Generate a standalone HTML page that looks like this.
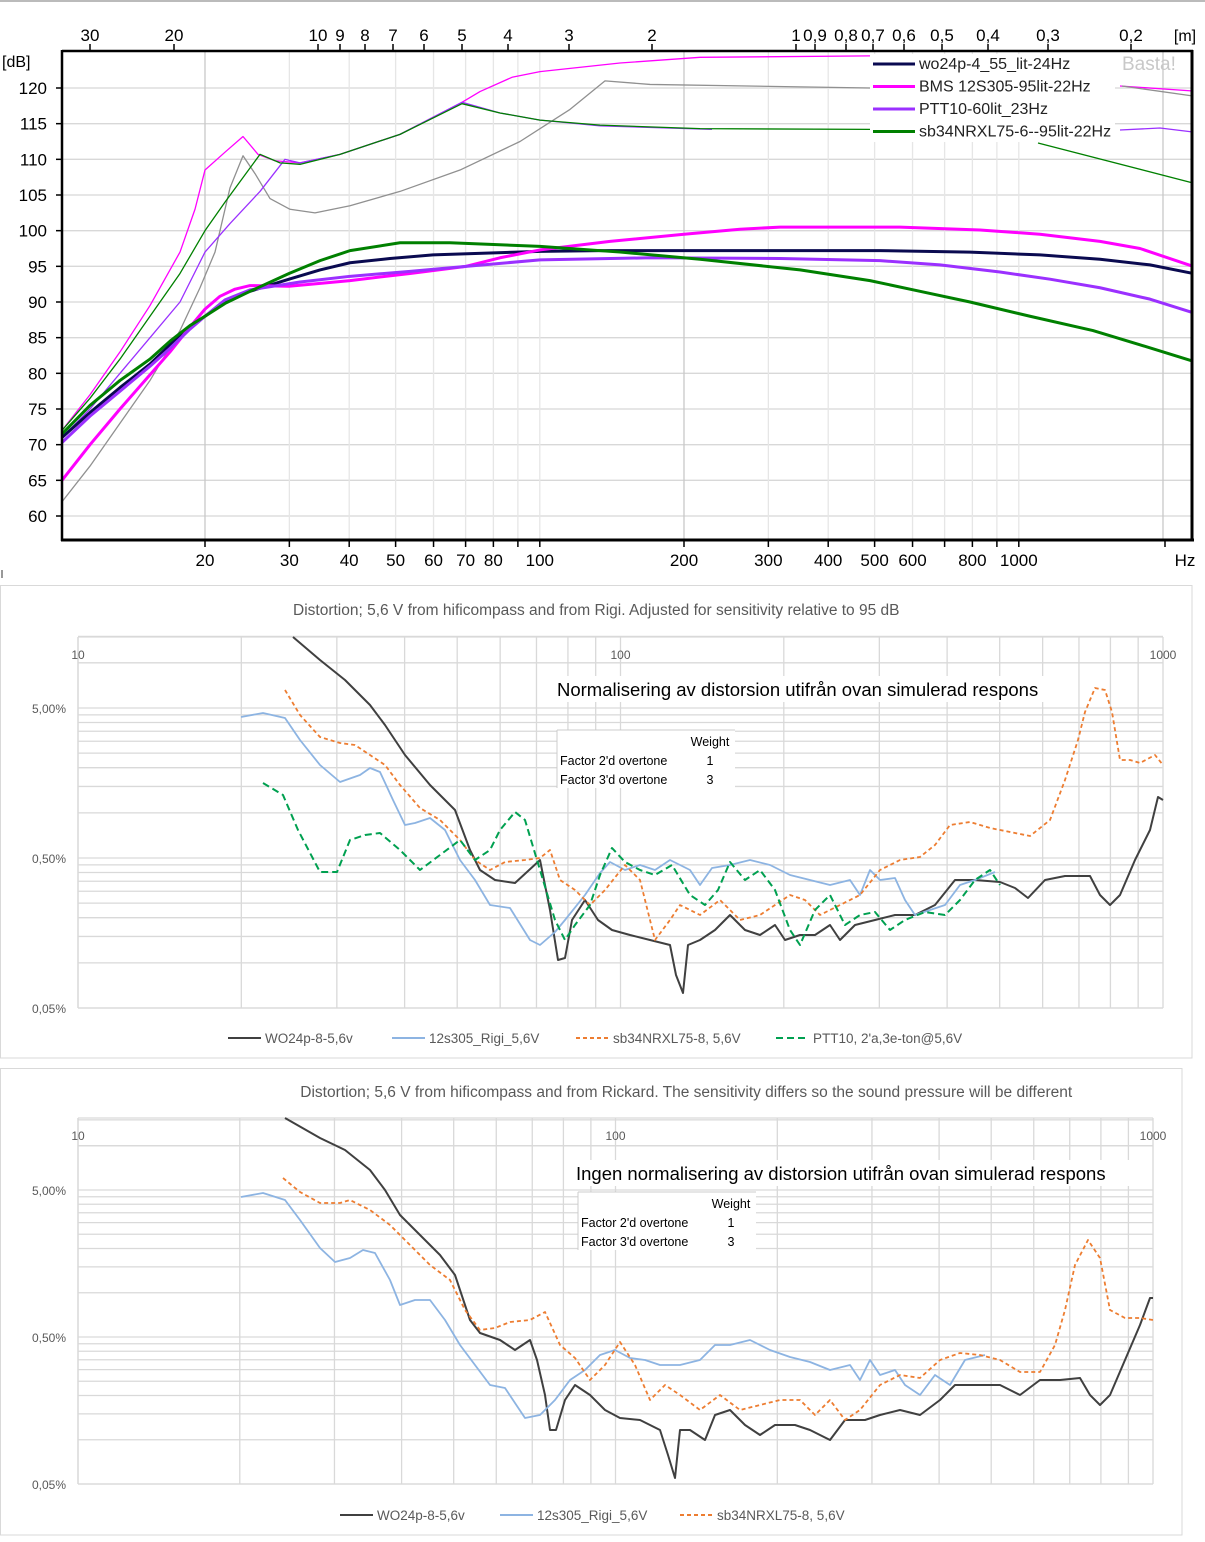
<!DOCTYPE html>
<html><head><meta charset="utf-8"><style>
html,body{margin:0;padding:0;background:#fff;width:1205px;height:1542px;overflow:hidden}
svg{display:block;font-family:"Liberation Sans",sans-serif}
</style></head><body>
<svg id="s" width="1205" height="1542" xmlns="http://www.w3.org/2000/svg"></svg>
<script>
const S=document.getElementById('s');let h='';
const L=Math.log10;
function pl(pts,c,w,d){h+=`<polyline fill="none" stroke="${c}" stroke-width="${w}" ${d?`stroke-dasharray="${d}"`:''} stroke-linejoin="round" points="${pts.map(p=>p[0]+','+p[1]).join(' ')}"/>`;}
function ln(x1,y1,x2,y2,c,w,d){h+=`<line x1="${x1}" y1="${y1}" x2="${x2}" y2="${y2}" stroke="${c}" stroke-width="${w}" ${d?`stroke-dasharray="${d}"`:''}/>`;}
function tx(x,y,t,s,c,a){h+=`<text x="${x}" y="${y}" font-size="${s}" fill="${c}" text-anchor="${a||'start'}">${t}</text>`;}
// ---------- TOP CHART ----------
ln(0,1,1205,1,'#bbb',2);
const fx=f=>205+479*L(f/20), dy=d=>88+(120-d)*7.1333;
for(let d=60;d<=120;d+=5)ln(62,dy(d),1193,dy(d),'#d8d8d8',1.3);
[20,30,40,50,60,70,80,90,100,200,300,400,500,600,700,800,900,1000,2000].forEach(f=>{let x=fx(f);ln(x,51,x,540,(f==20||f==200||f==2000)?'#c8c8c8':'#e6e6e6',1.3)});
[[30,90],[20,174],[10,318],[9,340],[8,365],[7,393],[6,424],[5,462],[4,508],[3,569],[2,652],[1,796],['0,9',815],['0,8',846],['0,7',873],['0,6',904],['0,5',942],['0,4',988],['0,3',1048],['0,2',1131]].forEach(a=>{ln(a[1],44,a[1],51,'#000',1.5);tx(a[1],41,a[0],17,'#000','middle')});
tx(1185,41,'[m]',16,'#000','middle');tx(2,67,'[dB]',16,'#000');
for(let d=60;d<=120;d+=5){tx(47,dy(d)+6,d,17,'#000','end');ln(56,dy(d),62,dy(d),'#000',1.5)}
[[20,'20'],[30,'30'],[40,'40'],[50,'50'],[60,'60'],[70,'70'],[80,'80'],[100,'100'],[200,'200'],[300,'300'],[400,'400'],[500,'500'],[600,'600'],[800,'800'],[1000,'1000']].forEach(a=>{let x=fx(a[0]);ln(x,540,x,547,'#000',1.5);tx(x,566,a[1],17,'#000','middle')});
[90,700,900].forEach(f=>ln(fx(f),540,fx(f),547,'#000',1.5));
ln(1165,540,1165,547,'#000',1.5);tx(1185,566,'Hz',17,'#000','middle');
const D=a=>a.map(p=>[p[0],dy(p[1])]);
pl(D([[62,72],[90,77],[120,83],[150,89.5],[180,97],[195,103],[205,108.5],[225,111],[243,113.2],[258,110.7],[275,109.8],[300,109.5],[340,110.7],[400,113.5],[462,118],[480,119.5],[512,121.5],[540,122.3],[620,123.5],[700,124.3],[870,124.5]]),'#ff00ff',1.3);
pl(D([[62,62],[90,67],[120,73],[150,79],[180,86],[200,92],[215,97],[230,106],[243,110.5],[255,108],[270,104.5],[290,103],[315,102.5],[350,103.5],[400,105.5],[460,108.5],[520,112.5],[570,117],[605,121],[650,120.5],[870,120]]),'#909090',1.3);
pl(D([[62,71],[90,75],[120,80],[150,85],[180,90],[205,97],[230,101],[260,105.5],[285,110],[300,109.5],[340,110.7],[400,113.5],[462,118],[500,116.5],[540,115.5],[600,114.7],[712,114.2]]),'#9b30ff',1.3);
pl(D([[62,72],[90,76.5],[120,82],[150,88],[180,94],[205,100],[225,104],[260,110.7],[280,109.5],[300,109.3],[340,110.7],[400,113.5],[462,117.8],[500,116.5],[540,115.5],[600,114.8],[700,114.3],[870,114.2]]),'#008000',1.3);
pl([[1120,86],[1193,91]],'#ff00ff',1.3);pl([[1122,86],[1193,96]],'#909090',1.3);
pl([[1120,130],[1160,128],[1193,132]],'#9b30ff',1.3);pl([[1038,143],[1193,183]],'#008000',1.3);
pl(D([[62,71],[90,74.5],[120,78],[150,81.3],[170,84],[190,86.5],[205,88],[225,90],[250,91.5],[289,93.2],[320,94.5],[350,95.5],[390,96.1],[433,96.6],[540,97.1],[600,97.2],[880,97.2],[970,97],[1040,96.6],[1100,96],[1150,95.2],[1193,94]]),'#0a0a50',3);
pl(D([[62,65],[90,70],[120,75],[150,79.8],[170,83],[190,86.5],[205,89],[220,90.8],[235,91.8],[250,92.3],[289,92.2],[350,93],[410,94],[466,95],[500,96.2],[540,97.3],[610,98.5],[684,99.5],[740,100.2],[780,100.5],[900,100.5],[980,100.1],[1040,99.5],[1100,98.5],[1140,97.5],[1193,95]]),'#ff00ff',3);
pl(D([[62,70.3],[90,74],[120,77.5],[150,81],[170,83.5],[190,86.2],[205,88],[225,90.3],[250,91.7],[300,92.8],[350,93.6],[410,94.3],[466,95],[540,95.9],[650,96.2],[780,96.1],[880,95.8],[940,95.2],[1000,94.2],[1050,93.2],[1100,92],[1150,90.4],[1193,88.5]]),'#9b30ff',3);
pl(D([[62,71.5],[90,75.5],[120,79],[150,82],[170,84.5],[190,86.7],[205,88],[225,89.8],[250,91.5],[289,94],[320,95.8],[350,97.2],[400,98.3],[450,98.3],[540,97.8],[620,97],[700,96],[800,94.5],[870,93],[920,91.5],[970,90],[1030,88],[1093,86],[1140,84],[1193,81.7]]),'#008000',3);
h+='<rect x="870" y="54" width="245" height="88" fill="#fff"/>';
[['#0a0a50','wo24p-4_55_lit-24Hz'],['#ff00ff','BMS 12S305-95lit-22Hz'],['#9b30ff','PTT10-60lit_23Hz'],['#008000','sb34NRXL75-6--95lit-22Hz']].forEach((a,i)=>{let y=63+i*22.5;ln(873,y+1,915,y+1,a[0],3);tx(919,y+6,a[1],16,'#222')});
tx(1122,70,'Basta!',19,'#c8c8c8');
ln(62,51,1193,51,'#000',2.5);ln(62,50,62,541,'#000',2.5);ln(61,540,1194,540,'#000',3);ln(1192,50,1192,541,'#000',3);
ln(2,570,2,578,'#999',2);
// ---------- DISTORTION CHARTS ----------
function dchart(o){
 const{bx0,by0,bx1,by1,px0,px1,py0,py1,y5,dec,title,ty,note,nx,ny,tabx,taby,legY,legs}=o;
 h+=`<rect x="${bx0}" y="${by0}" width="${bx1-bx0}" height="${by1-by0}" fill="#fff" stroke="#d9d9d9"/>`;
 tx((bx0+bx1)/2+(o.tdx||0),ty,title,15.5,'#595959','middle');
 const xd=(px1-px0)/2, X=f=>px0+xd*L(f/10), Y=v=>y5+dec*L(5/v);
 let vals=[];for(let e=-2;e<=0;e++)for(let m=1;m<=9;m++)vals.push(m*Math.pow(10,e)*5);
 vals.push(10);vals.forEach(v=>{let y=Y(v);if(y>=py0-1&&y<=py1+1)ln(px0,y,px1,y,'#d9d9d9',1.3)});
 for(let e=1;e<=3;e++)for(let m=1;m<=9;m++){let f=m*Math.pow(10,e);if(f>1000)break;let x=X(f);ln(x,py0,x,py1,'#d9d9d9',1.3)}
 ln(px0,py0,px1,py0,'#d9d9d9',1.3);ln(px0,py0,px0,py1,'#d9d9d9',1.3);ln(px0,py1,px1,py1,'#d9d9d9',1.3);
 tx(px0,py0+22,'10',12,'#595959','middle');tx(X(100),py0+22,'100',12,'#595959','middle');tx(X(1000),py0+22,'1000',12,'#595959','middle');
 [[5,'5,00%'],[0.5,'0,50%'],[0.05,'0,05%']].forEach(a=>tx(px0-12,Y(a[0])+5,a[1],12,'#595959','end'));
 h+=`<rect x="${nx-4}" y="${ny-20}" width="${o.nw}" height="26" fill="#fff"/>`;
 tx(nx,ny,note,18.5,'#000');
 h+=`<rect x="${tabx}" y="${taby}" width="178" height="58" fill="#fff"/>`;
 ln(tabx,taby,tabx+178,taby,'#ccc',1);ln(tabx,taby,tabx,taby+58,'#ccc',1);
 tx(tabx+153,taby+16,'Weight',12.5,'#000','middle');
 tx(tabx+3,taby+35,"Factor 2'd overtone",12.5,'#000');tx(tabx+153,taby+35,'1',12.5,'#000','middle');
 tx(tabx+3,taby+54,"Factor 3'd overtone",12.5,'#000');tx(tabx+153,taby+54,'3',12.5,'#000','middle');
 o.series.forEach(s=>pl(s[0],s[1],s[2],s[3]));
 legs.forEach(g=>{ln(g[0],legY-4,g[0]+33,legY-4,g[2],2,g[3]);tx(g[0]+37,legY+1,g[1],13.5,'#595959')});
}
const blk='#404040',blu='#8db4e2',org='#ed7d31',grn='#00a050';
dchart({bx0:0.5,by0:585.5,bx1:1192,by1:1058,px0:78,px1:1163,py0:637,py1:1008,y5:708,dec:150,
 title:'Distortion; 5,6 V from hificompass and from Rigi. Adjusted for sensitivity relative to 95 dB',ty:615,
 note:'Normalisering av distorsion utifrån ovan simulerad respons',nx:557,ny:696,nw:515,tabx:557,taby:730,legY:1042,
 legs:[[228,'WO24p-8-5,6v',blk],[392,'12s305_Rigi_5,6V',blu],[576,'sb34NRXL75-8, 5,6V',org,'4,3'],[776,'PTT10, 2\'a,3e-ton@5,6V',grn,'7,4']],
 series:[
 [[[293,637],[320,660],[345,680],[370,705],[385,725],[405,755],[430,785],[455,810],[470,850],[480,870],[495,880],[515,883],[540,860],[550,910],[558,960],[565,958],[572,920],[585,900],[598,920],[612,930],[630,935],[650,940],[670,945],[676,975],[683,993],[688,945],[700,940],[715,930],[730,915],[745,930],[760,935],[775,925],[785,940],[800,935],[815,935],[830,925],[840,940],[855,925],[875,920],[895,915],[915,915],[935,905],[955,880],[975,880],[1000,882],[1015,888],[1028,898],[1045,880],[1065,876],[1090,876],[1100,895],[1110,905],[1120,895],[1135,860],[1150,830],[1158,797],[1163,800]],blk,2],
 [[[241,717],[263,713],[285,718],[300,740],[320,765],[340,782],[360,775],[370,768],[380,772],[393,800],[405,825],[415,823],[430,818],[445,830],[460,860],[475,880],[490,905],[510,908],[530,940],[540,945],[555,932],[565,920],[585,895],[600,873],[610,862],[625,870],[640,865],[655,870],[670,860],[690,870],[700,885],[712,868],[730,865],[750,860],[770,865],[790,875],[810,880],[830,885],[850,880],[860,895],[870,870],[880,880],[895,878],[905,900],[915,915],[930,910],[945,905],[960,885],[975,880],[995,872]],blu,1.8],
 [[[285,690],[300,715],[320,737],[340,743],[355,745],[370,755],[385,765],[400,785],[420,808],[440,820],[460,840],[475,860],[490,870],[505,862],[525,860],[540,858],[550,850],[560,880],[575,890],[590,905],[605,890],[625,865],[640,880],[655,940],[670,920],[680,905],[700,915],[720,900],[740,920],[760,915],[775,905],[790,895],[805,900],[820,915],[840,905],[860,895],[880,870],[900,860],[920,857],[935,845],[950,825],[970,822],[990,828],[1010,832],[1030,836],[1050,820],[1065,780],[1078,740],[1085,712],[1095,688],[1105,690],[1112,712],[1120,760],[1130,760],[1140,763],[1155,755],[1163,765]],org,1.8,'4,3'],
 [[[263,783],[283,795],[298,830],[320,872],[337,872],[350,840],[365,835],[380,833],[400,850],[420,870],[440,855],[460,840],[475,860],[490,850],[500,830],[515,812],[525,820],[540,870],[555,920],[565,940],[575,925],[590,905],[600,875],[612,848],[625,862],[640,870],[655,875],[672,865],[690,895],[705,905],[718,890],[730,862],[745,880],[760,870],[775,890],[790,930],[800,945],[815,910],[830,895],[845,925],[860,915],[875,912],[890,930],[905,920],[925,912],[945,915],[960,900],[975,880],[990,870],[1000,885]],grn,2,'7,4']
 ]});
dchart({bx0:0.5,by0:1068.5,bx1:1182,by1:1535,px0:78,px1:1153,py0:1118,py1:1484,y5:1190,dec:147,tdx:95,
 title:'Distortion; 5,6 V from hificompass and from Rickard. The sensitivity differs so the sound pressure will be different',ty:1097,
 note:'Ingen normalisering av distorsion utifrån ovan simulerad respons',nx:576,ny:1180,nw:566,tabx:578,taby:1192,legY:1519,
 legs:[[340,'WO24p-8-5,6v',blk],[500,'12s305_Rigi_5,6V',blu],[680,'sb34NRXL75-8, 5,6V',org,'4,3']],
 series:[
 [[[285,1118],[320,1138],[345,1150],[370,1170],[385,1190],[400,1215],[420,1235],[440,1255],[455,1275],[470,1320],[480,1333],[500,1340],[515,1350],[530,1340],[537,1360],[545,1395],[550,1430],[556,1430],[565,1400],[575,1385],[590,1395],[605,1410],[620,1418],[640,1420],[660,1430],[668,1455],[675,1478],[680,1430],[690,1430],[705,1440],[715,1415],[730,1410],[745,1425],[760,1435],[775,1425],[795,1425],[810,1430],[830,1440],[845,1420],[865,1420],[880,1415],[900,1410],[920,1415],[940,1400],[955,1385],[980,1385],[1000,1385],[1020,1395],[1040,1380],[1060,1380],[1080,1378],[1090,1395],[1100,1405],[1110,1395],[1125,1360],[1140,1325],[1150,1298],[1153,1298]],blk,2],
 [[[241,1197],[263,1193],[285,1200],[300,1220],[320,1248],[335,1262],[350,1258],[363,1250],[375,1253],[390,1280],[400,1305],[415,1300],[430,1300],[445,1320],[460,1345],[475,1365],[490,1385],[505,1388],[525,1418],[540,1415],[555,1400],[570,1380],[585,1370],[600,1355],[615,1350],[630,1358],[645,1360],[660,1365],[680,1365],[700,1360],[715,1345],[730,1345],[750,1340],[770,1350],[790,1357],[810,1362],[830,1370],[850,1365],[860,1380],[870,1360],[880,1375],[895,1370],[905,1385],[920,1395],[935,1375],[950,1385],[965,1360],[985,1355]],blu,1.8],
 [[[283,1178],[300,1192],[320,1203],[340,1203],[350,1200],[370,1210],[390,1225],[410,1245],[430,1265],[450,1280],[465,1310],[480,1330],[495,1328],[510,1322],[530,1320],[545,1312],[560,1345],[575,1358],[590,1380],[605,1365],[620,1342],[635,1365],[650,1400],[665,1385],[680,1395],[700,1410],[720,1395],[740,1410],[760,1405],[780,1400],[800,1400],[815,1415],[830,1400],[845,1420],[860,1410],[880,1385],[900,1375],[920,1378],[940,1360],[960,1353],[980,1355],[1000,1360],[1020,1372],[1040,1372],[1055,1345],[1065,1310],[1075,1265],[1088,1240],[1100,1258],[1110,1310],[1125,1318],[1140,1318],[1153,1320]],org,1.8,'4,3']
 ]});
S.innerHTML=h;
</script>
</body></html>
